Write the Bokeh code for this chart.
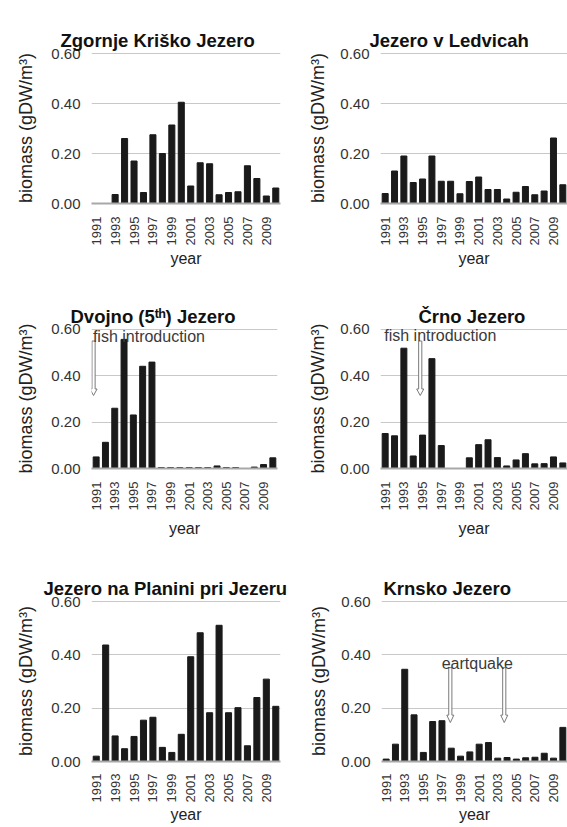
from bokeh.plotting import figure
from bokeh.layouts import column, row
from bokeh.models import FixedTicker, NumeralTickFormatter, Range1d, Label, LinearAxis
from bokeh.embed import file_html
from bokeh.resources import INLINE
from math import pi

# ---------------- data ----------------
years = list(range(1991, 2011))
year_ticks = list(range(1991, 2010, 2))
y_ticks = [0.0, 0.2, 0.4, 0.6]

titles = ["Zgornje Kriško Jezero", "Jezero v Ledvicah", "Dvojno (5ᵗʰ) Jezero",
          "Črno Jezero", "Jezero na Planini pri Jezeru", "Krnsko Jezero"]

zgornje = [0, 0, 0.036, 0.26, 0.17, 0.044, 0.275, 0.20, 0.314, 0.405,
           0.07, 0.163, 0.159, 0.035, 0.044, 0.047, 0.151, 0.10, 0.03, 0.062]
ledvicah = [0.04, 0.13, 0.19, 0.084, 0.098, 0.19, 0.089, 0.089, 0.039, 0.088,
            0.106, 0.056, 0.056, 0.018, 0.045, 0.068, 0.035, 0.05, 0.262, 0.075]
dvojno = [0.05, 0.113, 0.26, 0.557, 0.231, 0.441, 0.459, 0.004, 0.004, 0.004,
          0.004, 0.004, 0.004, 0.011, 0.004, 0.004, 0, 0.006, 0.017, 0.046]
crno = [0.151, 0.141, 0.519, 0.054, 0.144, 0.474, 0.099, 0, 0, 0.046,
        0.103, 0.124, 0.047, 0.011, 0.037, 0.064, 0.02, 0.021, 0.05, 0.024]
planini = [0.02, 0.437, 0.096, 0.048, 0.094, 0.155, 0.166, 0.053, 0.034, 0.102,
           0.393, 0.483, 0.183, 0.511, 0.183, 0.202, 0.059, 0.24, 0.309, 0.207]
krnsko = [0.009, 0.065, 0.346, 0.175, 0.034, 0.15, 0.153, 0.05, 0.02, 0.036,
          0.065, 0.071, 0.0125, 0.015, 0.009, 0.014, 0.016, 0.031, 0.0125, 0.128]

# annotations: (panel, text, x, y)
notes = [(2, "fish introduction", 1990.65, 0.57),
         (3, "fish introduction", 1990.9, 0.575),
         (5, "eartquake", 2000.8, 0.367)]
# event arrows: (panel, year, top, tip)
arrows = [(2, 1990.72, 0.55, 0.315),
          (3, 1994.75, 0.55, 0.315),
          (5, 1997.9, 0.352, 0.146),
          (5, 2003.7, 0.352, 0.146)]

series = [zgornje, ledvicah, dvojno, crno, planini, krnsko]

# ---------------- layout ----------------
# (width, height, border_left, border_right, border_top, border_bottom,
#  title_offset, title_gap, tick_label_standoff, xlabel_standoff, ylabel_standoff)
geo = [(290, 270, 91, 10, 52, 67, -31, 18, 7, 2, 12),
       (277, 270, 90, 0, 52, 67, -11, 18, 7, 2, 9),
       (290, 280, 91, 13, 58, 82, -21, 16, 7, 7, 12),
       (277, 280, 90, 0, 58, 82, 38, 16, 7, 7, 9),
       (290, 276, 91, 10, 50, 65, -48, 18, 6, 1, 12),
       (277, 276, 91, 0, 50, 65, 2, 18, 6, 1, 9)]

FONT = "Liberation Sans"


def block_arrow(x, top, tip, shaft=0.17, head=0.38, head_h=0.028):
    xs = [x - shaft, x + shaft, x + shaft, x + head, x, x - head, x - shaft]
    ys = [top, top, tip + head_h, tip + head_h, tip, tip + head_h, tip + head_h]
    return xs, ys


def make_panel(i):
    w, h, bl, br, bt, bb, toff, tgap, tls, xls, yls = geo[i]
    p = figure(width=w, height=h, output_backend="svg", toolbar_location=None,
               x_range=Range1d(1990.5, 2010.5), y_range=Range1d(0, 0.604),
               min_border_left=bl, min_border_right=br,
               min_border_top=bt, min_border_bottom=bb,
               outline_line_color=None, background_fill_color="white")
    p.title.text = titles[i]
    p.title.text_font = FONT
    p.title.text_font_size = "18.5px"
    p.title.text_font_style = "bold"
    p.title.text_color = "#111111"
    p.title.align = "left"
    p.title.vertical_align = "top"
    p.title.offset = toff
    p.title.standoff = 0

    p.vbar(x=years, top=series[i], width=0.64, color="#1a1a1a")

    p.xgrid.grid_line_color = None
    p.ygrid.grid_line_color = "#c8c8c8"
    p.ygrid.grid_line_width = 1

    xa, ya = p.below[0], p.left[0]
    ya.ticker = FixedTicker(ticks=y_ticks)
    xa.ticker = FixedTicker(ticks=year_ticks)
    ya.formatter = NumeralTickFormatter(format="0.00")
    xa.major_label_orientation = pi / 2
    for ax in (xa, ya):
        ax.major_tick_line_color = None
        ax.minor_tick_line_color = None
        ax.major_label_text_font = FONT
        ax.major_label_text_color = "#333333"
        ax.axis_label_text_font = FONT
        ax.axis_label_text_font_style = "normal"
        ax.axis_label_text_color = "#222222"
    ya.axis_label_text_font_size = "18px"
    xa.axis_label_text_font_size = "16px"
    ya.axis_line_color = None
    xa.axis_line_color = "#a8a8a8"
    xa.axis_line_width = 2
    ya.major_label_text_font_size = "15px"
    xa.major_label_text_font_size = "13px"
    ya.major_label_standoff = 5
    xa.major_label_standoff = tls
    ya.axis_label = "biomass (gDW/m³)"
    xa.axis_label = "year"
    ya.axis_label_standoff = yls
    xa.axis_label_standoff = xls

    for (k, x, top, tip) in arrows:
        if k == i:
            xs, ys = block_arrow(x, top, tip)
            p.patch(xs, ys, fill_color="white", line_color="#7a7a7a", line_width=1)
    for (k, txt, x, y) in notes:
        if k == i:
            p.add_layout(Label(x=x, y=y, text=txt, text_font=FONT,
                               text_font_size="16px", text_color="#3a3a3a",
                               text_align="center" if txt == "eartquake" else "left",
                               text_baseline="alphabetic"))

    # invisible, tick-less axis above the frame: a spacer under the title
    spacer = LinearAxis(ticker=FixedTicker(ticks=[]), axis_line_color=None,
                        major_tick_line_color=None, minor_tick_line_color=None,
                        major_tick_out=tgap, major_tick_in=0,
                        minor_tick_out=0, minor_tick_in=0,
                        major_label_standoff=0)
    p.add_layout(spacer, "above")
    return p


panels = [make_panel(i) for i in range(6)]
layout = column(row(panels[0], panels[1]),
                row(panels[2], panels[3]),
                row(panels[4], panels[5]))

open("out.html", "w").write(file_html(layout, INLINE))
